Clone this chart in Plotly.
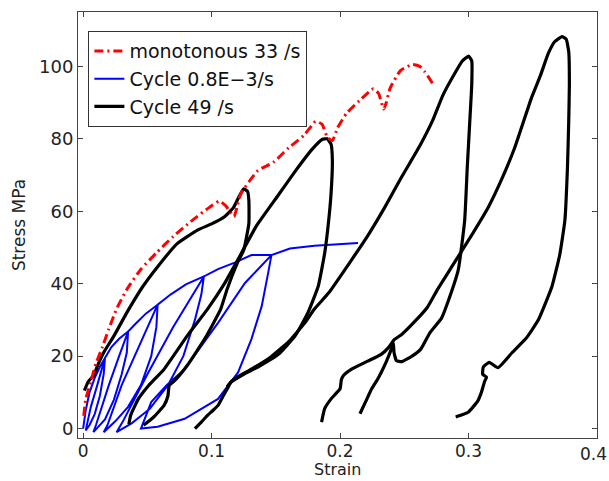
import plotly.graph_objects as go

# ---------------- data ----------------
x_ticks = [0, 0.1, 0.2, 0.3, 0.4]
x_tick_labels = ["0", "0.1", "0.2", "0.3", "0.4"]
y_ticks = [0, 20, 40, 60, 80, 100]
y_tick_labels = ["0", "20", "40", "60", "80", "100"]
x_title = "Strain"
y_title = "Stress MPa"

series_names = ["monotonous 33 /s", "Cycle 0.8E\u22123/s", "Cycle 49 /s"]

mono_strain = [0.0005, 0.002, 0.006, 0.010, 0.015, 0.020, 0.026, 0.034, 0.045, 0.057,
               0.070, 0.085, 0.098, 0.106, 0.111, 0.115, 0.1175, 0.120, 0.1227, 0.136,
               0.148, 0.160, 0.172, 0.181, 0.186, 0.190, 0.194, 0.198, 0.205, 0.215,
               0.226, 0.230, 0.234, 0.236, 0.239, 0.247, 0.256, 0.262, 0.266, 0.272]
mono_stress = [3.5, 8, 13, 18, 22.5, 27.5, 33, 38.4, 44, 48.5,
               53, 57.5, 61, 62.8, 61.5, 59.5, 58.5, 61.5, 64.8, 71.2,
               73.5, 77.5, 81, 84.8, 84, 80.5, 79.5, 83, 87, 90.5,
               93.8, 92.5, 88.2, 90, 94, 98.8, 100.5, 100, 98.5, 95.3]

slow_strain = [0.000, 0.002, 0.005, 0.009, 0.013, 0.017,
               0.016, 0.013, 0.009, 0.005, 0.002,
               0.006, 0.011, 0.017,
               0.022, 0.028, 0.035,
               0.034, 0.030, 0.024, 0.017, 0.011, 0.008,
               0.010, 0.020, 0.028, 0.035,
               0.041, 0.049, 0.058,
               0.057, 0.053, 0.045, 0.035, 0.025, 0.016,
               0.019, 0.030, 0.045, 0.058,
               0.068, 0.080, 0.094,
               0.092, 0.087, 0.078, 0.066, 0.052, 0.038, 0.026,
               0.031, 0.050, 0.070, 0.094,
               0.105, 0.118, 0.131, 0.1466,
               0.144, 0.139, 0.131, 0.1206, 0.105, 0.079, 0.058, 0.045,
               0.053, 0.065, 0.079, 0.105, 0.126, 0.1466,
               0.161, 0.180, 0.214]
slow_stress = [0, 5, 10, 14, 17, 19.5,
               15, 9, 4, 1, -0.5,
               6, 12, 19.5,
               22.5, 24.8, 26.8,
               21, 15, 8, 2.5, 0, -1,
               1, 12, 20, 26.8,
               29, 31.8, 34.2,
               28, 20, 12, 6, 2, -1,
               1, 12, 24, 34.2,
               37, 39.8, 42,
               37, 30, 20, 12, 5.5, 1.5, -1,
               2, 15, 28, 42,
               44, 45.8, 47.9, 47.9,
               42.9, 33.8, 24.7, 15.5, 8.2, 2.7, 0.5, 0,
               7.3, 12, 16.4, 29.2, 40.2, 47.9,
               49.7, 50.5, 51.2]

fast1_strain = [0.001, 0.004, 0.008, 0.012, 0.016, 0.024, 0.034, 0.040, 0.047, 0.058,
                0.073, 0.089, 0.100, 0.110, 0.117, 0.122, 0.125, 0.128, 0.129, 0.129,
                0.125, 0.120, 0.112, 0.107, 0.095, 0.081, 0.072, 0.067, 0.066, 0.063,
                0.055, 0.047]
fast1_stress = [10.5, 13, 14.6, 18, 21, 25.6, 32, 35.6, 39.5, 44.7,
                51, 54.8, 56.5, 58.5, 61, 64.5, 66.2, 65.5, 63, 56.6,
                49.3, 45.7, 38.4, 32.9, 25, 17.4, 13.5, 11.9, 9, 6.4,
                3.2, 0.9]

fast2_strain = [0.0356, 0.037, 0.043, 0.051, 0.063, 0.081, 0.0967, 0.110, 0.119, 0.135,
                0.151, 0.165, 0.178, 0.186, 0.190, 0.193, 0.194, 0.193, 0.191, 0.188,
                0.183, 0.175, 0.165, 0.152, 0.136, 0.125, 0.115, 0.112]
fast2_stress = [1.2, 3.7, 8.2, 11.9, 16.4, 25.6, 32.9, 40, 45.7, 56,
                64, 71, 77, 79.8, 80, 78.5, 74, 65, 57, 48.4,
                39.3, 32, 25.6, 20.5, 17, 15, 12.8, 11.5]

fast3_strain = [0.087, 0.092, 0.097, 0.101, 0.105, 0.109, 0.113, 0.115, 0.120, 0.131,
                0.145, 0.160, 0.1726, 0.180, 0.191, 0.209, 0.222, 0.235, 0.248, 0.262,
                0.272, 0.280, 0.290, 0.295, 0.300, 0.3025, 0.3025, 0.301, 0.299, 0.297,
                0.292, 0.284, 0.279, 0.270, 0.263, 0.256, 0.248, 0.244, 0.242, 0.2415,
                0.240, 0.236, 0.232, 0.229, 0.2246, 0.220, 0.2155]
fast3_stress = [0, 1.8, 3.7, 5, 6.4, 9, 11.5, 12.8, 14.2, 16.4,
                19.5, 24, 29.2, 33, 37.4, 46.6, 53.5, 61.2, 69.5, 78,
                85, 92, 98.5, 101.4, 102.8, 101.5, 95, 85, 72, 57.5,
                43.8, 35, 30.5, 26.5, 22, 20, 18.5, 18.7, 21, 23.5,
                22, 18.5, 15.5, 13.5, 11, 7.5, 4.1]

fast4_strain = [0.1856, 0.188, 0.193, 0.200, 0.201, 0.2025, 0.209, 0.222, 0.232, 0.238,
                0.242, 0.248, 0.258, 0.268, 0.276, 0.287, 0.300, 0.3155, 0.326, 0.336,
                0.349, 0.356, 0.362, 0.367, 0.3727, 0.376, 0.378, 0.3785, 0.378, 0.377,
                0.375, 0.371, 0.365, 0.3545, 0.345, 0.334, 0.323, 0.316, 0.3115, 0.311,
                0.314, 0.3125, 0.310, 0.307, 0.300, 0.295, 0.290]
fast4_stress = [1.8, 5.5, 8.2, 11, 13.5, 14.6, 16.4, 18.7, 20.5, 22.5,
                24.5, 26, 29.5, 33.5, 38.5, 44.7, 52, 61.2, 69, 77.6,
                91.3, 97.5, 103.5, 106.8, 108.2, 107.5, 104, 95, 85, 72,
                57.5, 48, 39.3, 30.1, 25, 21, 16.8, 18.3, 17, 15,
                14.2, 13, 10, 7.5, 4.6, 3.8, 3.2]

fast_loops = [(fast1_strain, fast1_stress), (fast2_strain, fast2_stress),
              (fast3_strain, fast3_stress), (fast4_strain, fast4_stress)]

# ---------------- figure ----------------
FONT = "DejaVu Sans"
TXT = "#222222"
fig = go.Figure()

fig.add_trace(go.Scatter(x=slow_strain, y=slow_stress, mode="lines", name=series_names[1],
                         line=dict(color="#0000ff", width=2), legendrank=2))

for i, (xs, ys) in enumerate(fast_loops):
    fig.add_trace(go.Scatter(x=xs, y=ys, mode="lines", name=series_names[2],
                             legendgroup="fast", showlegend=(i == 0),
                             line=dict(color="#000000", width=3.2, shape="spline", smoothing=0.4),
                             legendrank=3))

fig.add_trace(go.Scatter(x=mono_strain, y=mono_stress, mode="lines", name=series_names[0],
                         line=dict(color="#ff0000", width=3, dash="9px,4px,2px,4px",
                                   shape="spline", smoothing=0.5),
                         legendrank=1))

axis_common = dict(showgrid=False, zeroline=False, showline=True, mirror="ticks",
                   linecolor="#444444", linewidth=1, ticks="inside", ticklen=5,
                   tickcolor="#444444")

# last x tick label is drawn as an annotation right-aligned to the page edge
x_axis_labels = x_tick_labels[:-1] + [""]
fig.update_xaxes(range=[-0.004, 0.4], tickvals=x_ticks, ticktext=x_axis_labels,
                 tickfont=dict(family=FONT, size=17, color=TXT), ticklabelstandoff=-2,
                 **axis_common)
fig.update_yaxes(range=[-2.6, 115], tickvals=y_ticks, ticktext=y_tick_labels,
                 tickfont=dict(family=FONT, size=18, color=TXT),
                 title=dict(text=y_title, font=dict(family=FONT, size=17, color=TXT), standoff=9),
                 **axis_common)

fig.add_annotation(x=x_ticks[-1], xref="x", y=0, yref="paper", text=x_tick_labels[-1],
                   showarrow=False, xanchor="right", yanchor="top", xshift=12, yshift=-4,
                   font=dict(family=FONT, size=17, color=TXT))
fig.add_annotation(x=0.5, xref="paper", y=0, yref="paper", text=x_title,
                   showarrow=False, xanchor="center", yanchor="bottom", yshift=-43,
                   font=dict(family=FONT, size=16, color=TXT))

fig.update_layout(
    width=609, height=481,
    margin=dict(l=78, r=12, t=12, b=43, autoexpand=False),
    plot_bgcolor="white", paper_bgcolor="white",
    font=dict(family=FONT, size=17, color=TXT),
    legend=dict(x=0.02, y=0.955, xanchor="left", yanchor="top",
                bordercolor="#333333", borderwidth=1, bgcolor="white",
                font=dict(family=FONT, size=19, color="#111111"),
                tracegroupgap=0),
    showlegend=True,
)

fig.write_html("out.html", config={"displayModeBar": False},
               post_script="document.body.style.margin='0';")
